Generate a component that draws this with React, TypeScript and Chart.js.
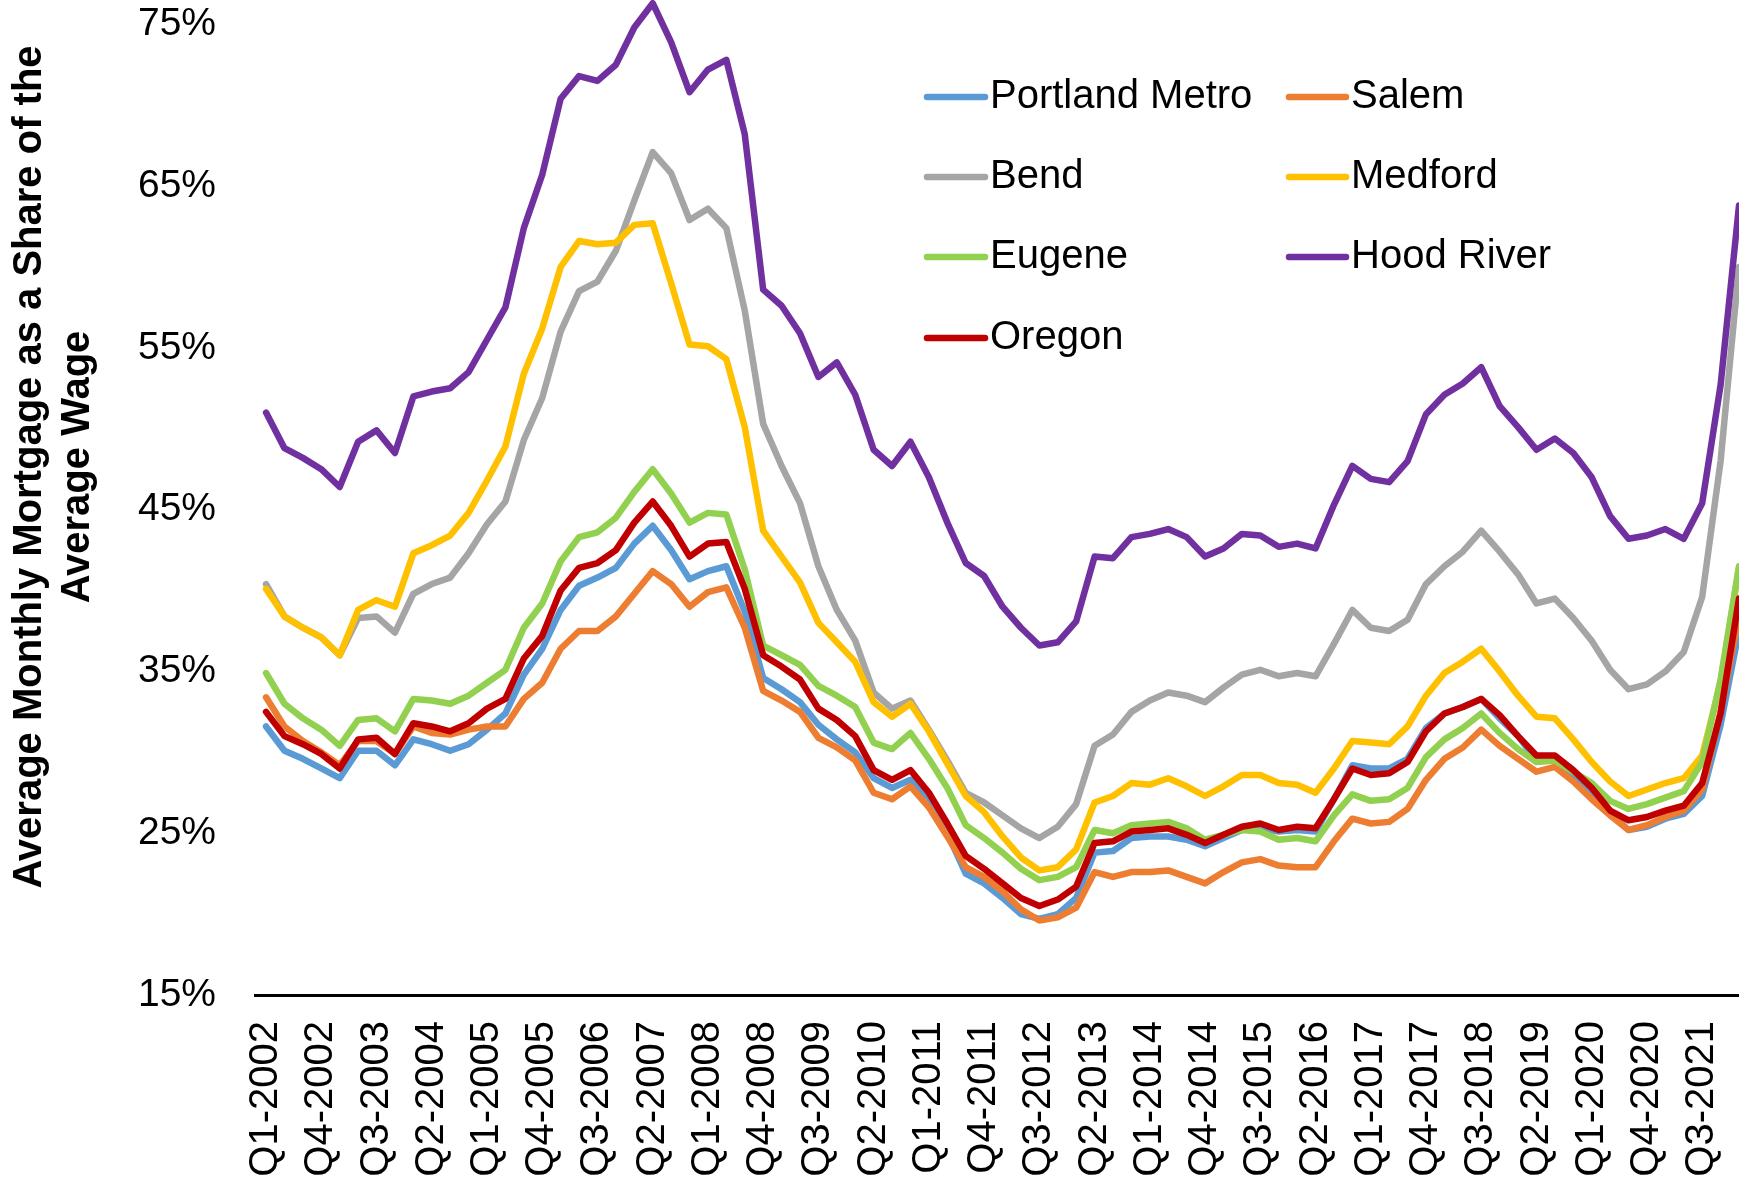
import React, { useEffect, useRef } from "react";
import { Chart, registerables } from "chart.js";

Chart.register(...registerables);

const quarters = [
  "Q1-2002", "Q2-2002", "Q3-2002", "Q4-2002",
  "Q1-2003", "Q2-2003", "Q3-2003", "Q4-2003",
  "Q1-2004", "Q2-2004", "Q3-2004", "Q4-2004",
  "Q1-2005", "Q2-2005", "Q3-2005", "Q4-2005",
  "Q1-2006", "Q2-2006", "Q3-2006", "Q4-2006",
  "Q1-2007", "Q2-2007", "Q3-2007", "Q4-2007",
  "Q1-2008", "Q2-2008", "Q3-2008", "Q4-2008",
  "Q1-2009", "Q2-2009", "Q3-2009", "Q4-2009",
  "Q1-2010", "Q2-2010", "Q3-2010", "Q4-2010",
  "Q1-2011", "Q2-2011", "Q3-2011", "Q4-2011",
  "Q1-2012", "Q2-2012", "Q3-2012", "Q4-2012",
  "Q1-2013", "Q2-2013", "Q3-2013", "Q4-2013",
  "Q1-2014", "Q2-2014", "Q3-2014", "Q4-2014",
  "Q1-2015", "Q2-2015", "Q3-2015", "Q4-2015",
  "Q1-2016", "Q2-2016", "Q3-2016", "Q4-2016",
  "Q1-2017", "Q2-2017", "Q3-2017", "Q4-2017",
  "Q1-2018", "Q2-2018", "Q3-2018", "Q4-2018",
  "Q1-2019", "Q2-2019", "Q3-2019", "Q4-2019",
  "Q1-2020", "Q2-2020", "Q3-2020", "Q4-2020",
  "Q1-2021", "Q2-2021", "Q3-2021", "Q4-2021",
  "Q1-2022",
];

// indices of the labelled quarters (every third quarter)
const xTickIndices = [0, 3, 6, 9, 12, 15, 18, 21, 24, 27, 30, 33, 36, 39, 42, 45, 48, 51, 54, 57, 60, 63, 66, 69, 72, 75, 78];
const yTickValues = [15, 25, 35, 45, 55, 65, 75];

const portlandMetro = [
  31.6, 30.1, 29.6, 29.0, 28.4, 30.1, 30.1, 29.2, 30.8, 30.5,
  30.1, 30.5, 31.4, 32.4, 34.8, 36.4, 38.8, 40.3, 40.8, 41.4,
  42.9, 44.0, 42.5, 40.7, 41.2, 41.5, 38.7, 34.6, 33.9, 33.1,
  31.7, 30.8, 30.0, 28.4, 27.8, 28.3, 27.2, 25.0, 22.5, 21.9,
  21.0, 20.0, 19.7, 20.0, 21.0, 23.8, 23.9, 24.7, 24.8, 24.8,
  24.6, 24.2, 24.7, 25.2, 25.3, 25.1, 25.2, 25.1, 27.1, 29.2,
  29.0, 29.0, 29.6, 31.5, 32.4, 32.8, 33.3, 32.1, 31.0, 29.5,
  29.7, 28.6, 27.6, 26.2, 25.2, 25.4, 25.9, 26.2, 27.3, 31.7,
  37.5,
];
const salem = [
  33.4, 31.6, 30.7, 30.0, 29.2, 30.7, 30.7, 29.9, 31.6, 31.2,
  31.1, 31.4, 31.6, 31.6, 33.3, 34.3, 36.4, 37.5, 37.5, 38.4,
  39.8, 41.2, 40.4, 39.0, 39.9, 40.2, 37.7, 33.8, 33.2, 32.5,
  30.9, 30.3, 29.5, 27.5, 27.1, 27.9, 26.6, 24.8, 22.9, 22.3,
  21.4, 20.3, 19.6, 19.8, 20.4, 22.6, 22.3, 22.6, 22.6, 22.7,
  22.3, 21.9, 22.6, 23.2, 23.4, 23.0, 22.9, 22.9, 24.5, 25.9,
  25.6, 25.7, 26.5, 28.3, 29.6, 30.3, 31.4, 30.4, 29.6, 28.8,
  29.1, 28.2, 27.1, 26.1, 25.2, 25.5, 26.0, 26.4, 27.7, 32.5,
  38.5,
];
const bend = [
  40.4, 38.4, 37.7, 37.1, 36.0, 38.3, 38.4, 37.4, 39.8, 40.4,
  40.8, 42.3, 44.1, 45.5, 49.3, 51.9, 56.0, 58.5, 59.1, 61.0,
  64.1, 67.1, 65.8, 62.9, 63.6, 62.4, 57.3, 50.3, 47.7, 45.4,
  41.5, 38.8, 36.9, 33.7, 32.7, 33.2, 31.4, 29.5, 27.5, 26.9,
  26.1, 25.3, 24.7, 25.4, 26.8, 30.4, 31.1, 32.5, 33.2, 33.7,
  33.5, 33.1, 34.0, 34.8, 35.1, 34.7, 34.9, 34.7, 36.7, 38.8,
  37.7, 37.5, 38.2, 40.4, 41.5, 42.4, 43.7, 42.4, 41.0, 39.2,
  39.5, 38.3, 36.9, 35.1, 33.9, 34.2, 35.0, 36.2, 39.6, 48.0,
  60.0,
];
const medford = [
  40.1, 38.4, 37.7, 37.1, 36.0, 38.8, 39.4, 39.0, 42.3, 42.8,
  43.4, 44.8, 46.8, 48.9, 53.4, 56.2, 60.0, 61.6, 61.4, 61.5,
  62.6, 62.7, 59.0, 55.2, 55.1, 54.3, 50.1, 43.7, 42.1, 40.5,
  38.0, 36.8, 35.6, 33.1, 32.2, 33.0, 31.3, 29.3, 27.3, 26.3,
  24.8, 23.5, 22.7, 22.9, 24.0, 26.9, 27.3, 28.1, 28.0, 28.4,
  27.9, 27.3, 27.9, 28.6, 28.6, 28.1, 28.0, 27.5, 29.0, 30.7,
  30.6, 30.5, 31.6, 33.5, 34.9, 35.6, 36.4, 35.0, 33.5, 32.2,
  32.1, 30.8, 29.4, 28.2, 27.3, 27.7, 28.1, 28.4, 29.8, 34.3,
  41.4,
];
const eugene = [
  34.9, 33.0, 32.1, 31.4, 30.4, 32.0, 32.1, 31.3, 33.3, 33.2,
  33.0, 33.5, 34.3, 35.1, 37.7, 39.2, 41.8, 43.3, 43.6, 44.5,
  46.1, 47.5, 46.0, 44.2, 44.8, 44.7, 41.3, 36.6, 36.0, 35.4,
  34.1, 33.5, 32.8, 30.6, 30.2, 31.2, 29.6, 27.8, 25.5, 24.7,
  23.8, 22.8, 22.1, 22.3, 22.9, 25.2, 25.0, 25.5, 25.6, 25.7,
  25.3, 24.6, 24.9, 25.2, 25.1, 24.6, 24.7, 24.5, 26.1, 27.4,
  27.0, 27.1, 27.8, 29.7, 30.8, 31.5, 32.4, 31.2, 30.2, 29.4,
  29.5, 28.8, 28.1, 27.0, 26.5, 26.8, 27.2, 27.6, 29.4, 34.5,
  41.5,
];
const hoodRiver = [
  51.0, 48.8, 48.2, 47.5, 46.4, 49.2, 49.9, 48.5, 52.0, 52.3,
  52.5, 53.5, 55.5, 57.5, 62.4, 65.7, 70.4, 71.8, 71.5, 72.5,
  74.8, 76.3, 73.9, 70.8, 72.2, 72.8, 68.2, 58.6, 57.6, 55.9,
  53.2, 54.1, 52.1, 48.7, 47.7, 49.2, 47.0, 44.2, 41.7, 40.9,
  39.0, 37.7, 36.6, 36.8, 38.1, 42.1, 42.0, 43.3, 43.5, 43.8,
  43.3, 42.1, 42.6, 43.5, 43.4, 42.7, 42.9, 42.6, 45.3, 47.7,
  46.9, 46.7, 48.0, 50.9, 52.1, 52.8, 53.8, 51.4, 50.1, 48.7,
  49.4, 48.5, 47.0, 44.6, 43.2, 43.4, 43.8, 43.2, 45.4, 52.7,
  63.8,
];
const oregon = [
  32.5, 31.0, 30.5, 29.9, 29.0, 30.8, 30.9, 29.9, 31.8, 31.6,
  31.3, 31.8, 32.7, 33.3, 35.8, 37.2, 40.0, 41.4, 41.7, 42.5,
  44.2, 45.5, 44.0, 42.1, 42.9, 43.0, 40.1, 36.0, 35.3, 34.5,
  32.7, 32.0, 31.0, 28.9, 28.3, 28.9, 27.5, 25.6, 23.6, 22.8,
  21.9, 21.0, 20.5, 20.9, 21.7, 24.4, 24.5, 25.1, 25.2, 25.3,
  24.9, 24.4, 24.9, 25.4, 25.6, 25.2, 25.4, 25.3, 27.1, 29.0,
  28.6, 28.7, 29.4, 31.3, 32.4, 32.8, 33.3, 32.3, 31.0, 29.8,
  29.8, 28.9, 27.8, 26.4, 25.8, 26.0, 26.4, 26.7, 28.1, 32.4,
  39.5,
];

const seriesNames = ["Portland Metro", "Salem", "Bend", "Medford", "Eugene", "Hood River", "Oregon"];
const seriesColors = ["#5B9BD5", "#ED7D31", "#A5A5A5", "#FFC000", "#92D050", "#7030A0", "#C00000"];
const yTitleLines = ["Average Monthly Mortgage as a Share of the", "Average Wage"];

const FONT = "'Liberation Sans', Arial, Helvetica, sans-serif";
const W = 1739;
const H = 1182;

export default function App() {
  const canvasRef = useRef<HTMLCanvasElement>(null);

  useEffect(() => {
    const canvas = canvasRef.current;
    if (!canvas) return;
    const seriesValues = [portlandMetro, salem, bend, medford, eugene, hoodRiver, oregon];

    const datasets = seriesValues.map((vals, si) => ({
      label: seriesNames[si],
      data: vals.map((v, i) => ({ x: i, y: v })),
      borderColor: seriesColors[si],
      backgroundColor: seriesColors[si],
      borderWidth: 6.5,
      pointRadius: 0,
      pointHoverRadius: 0,
      tension: 0,
      borderJoinStyle: "round" as const,
      borderCapStyle: "round" as const,
      order: seriesValues.length - 1 - si,
    }));

    const overlayPlugin = {
      id: "overlayText",
      afterDraw(chart: any) {
        const ctx = chart.ctx as CanvasRenderingContext2D;
        ctx.save();
        // legend (2 columns)
        const cols = [
          { x0: 927, x1: 985, tx: 990 },
          { x0: 1289, x1: 1346, tx: 1351 },
        ];
        const rows = [97, 177, 257, 338];
        seriesNames.forEach((name, i) => {
          const c = cols[i % 2];
          const y = rows[Math.floor(i / 2)];
          ctx.strokeStyle = seriesColors[i];
          ctx.lineWidth = 6.5;
          ctx.lineCap = "round";
          ctx.beginPath();
          ctx.moveTo(c.x0, y);
          ctx.lineTo(c.x1, y);
          ctx.stroke();
          ctx.fillStyle = "#000";
          ctx.font = `40px ${FONT}`;
          ctx.textAlign = "left";
          ctx.textBaseline = "middle";
          ctx.fillText(name, c.tx, y);
        });
        // y-axis title (two lines, rotated)
        ctx.font = `bold 40px ${FONT}`;
        ctx.textAlign = "center";
        ctx.textBaseline = "middle";
        ctx.fillStyle = "#000";
        const xs = [30, 78];
        yTitleLines.forEach((line, k) => {
          ctx.save();
          ctx.translate(xs[k], 467);
          ctx.rotate(-Math.PI / 2);
          ctx.fillText(line, 0, 0);
          ctx.restore();
        });
        ctx.restore();
      },
    };

    const chart = new Chart(canvas, {
      type: "line",
      data: { datasets },
      options: {
        animation: false,
        responsive: false,
        devicePixelRatio: 1,
        layout: { padding: 0 },
        events: [],
        plugins: {
          legend: { display: false },
          title: { display: false },
          tooltip: { enabled: false },
        },
        scales: {
          x: {
            type: "linear",
            min: -0.6,
            max: 80,
            grid: { display: false, drawTicks: false },
            border: { display: true, color: "#000", width: 3 },
            ticks: {
              autoSkip: false,
              minRotation: 90,
              maxRotation: 90,
              padding: 26,
              color: "#000",
              font: { size: 40, family: FONT },
              callback: (v: any) => quarters[Math.round(Number(v))] ?? "",
            },
            afterBuildTicks: (scale: any) => {
              scale.ticks = xTickIndices.map((v) => ({ value: v }));
            },
            afterFit: (scale: any) => {
              scale.height = H - 995;
              scale.paddingLeft = 0;
              scale.paddingRight = 0;
            },
          },
          y: {
            type: "linear",
            min: 15,
            max: 76.5,
            grid: { display: false, drawTicks: false },
            border: { display: false },
            ticks: {
              padding: 39,
              color: "#000",
              font: { size: 39, family: FONT },
              callback: (v: any) => `${v}%`,
            },
            afterBuildTicks: (scale: any) => {
              scale.ticks = yTickValues.map((v) => ({ value: v }));
            },
            afterFit: (scale: any) => {
              scale.width = 255;
              scale.paddingTop = 0;
              scale.paddingBottom = 0;
            },
          },
        },
      },
      plugins: [overlayPlugin],
    } as any);

    return () => {
      chart.destroy();
    };
  }, []);

  return (
    <div style={{ position: "absolute", left: 0, top: 0, width: W, height: H, background: "#fff", overflow: "hidden" }}>
      <canvas ref={canvasRef} width={W} height={H} style={{ display: "block", width: W, height: H }} />
    </div>
  );
}
